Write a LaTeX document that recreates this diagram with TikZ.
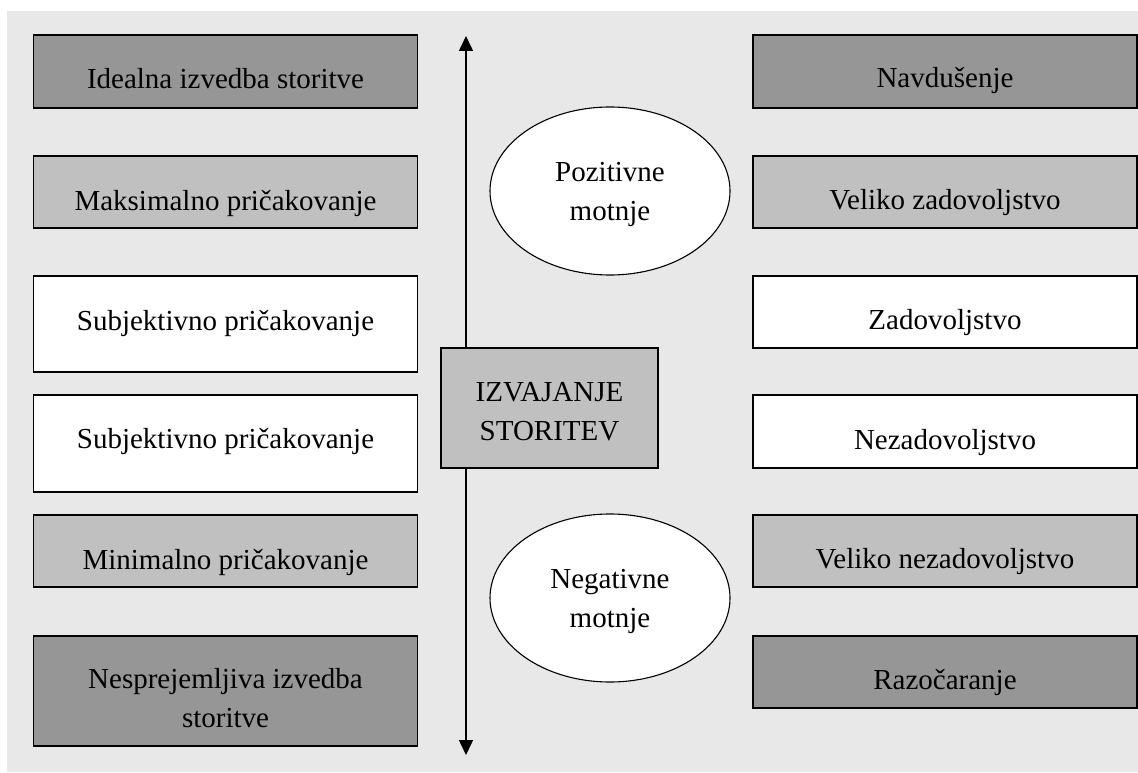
\documentclass[tikz,border=0pt]{standalone}
\usepackage{fontspec}
\setmainfont{Liberation Serif}
\usetikzlibrary{arrows.meta,shapes.geometric}
\definecolor{dk}{RGB}{150,150,150}
\definecolor{lt}{RGB}{192,192,192}
\definecolor{bg}{RGB}{232,232,232}
\tikzset{
  box/.style={draw=black, line width=1.3pt, rectangle, inner sep=0pt, align=center,
    font=\fontsize{29}{38.5}\selectfont, minimum width=384pt},
  oval/.style={draw=black, line width=1.1pt, ellipse, fill=white, inner sep=0pt, align=center,
    font=\fontsize{29}{38.5}\selectfont, minimum width=240pt, minimum height=168pt,
    text height=58pt, text depth=0pt},
  axis/.style={line width=1.5pt, {Triangle[length=15pt,width=14pt]}-{Triangle[length=15pt,width=14pt]}}
}
\begin{document}
\begin{tikzpicture}[x=1pt,y=-1pt]
\useasboundingbox (0,0) rectangle (1138,773);
\fill[white] (0,0) rectangle (1138,773);
\fill[bg] (7,11) rectangle (1138,772);
% axis
\coordinate (atop) at (466,36);
\coordinate (abot) at (466,755);
\draw[axis] (atop) -- (abot);
% left column
\node[box, fill=dk, minimum height=73pt, text height=54pt, text depth=19pt] (l1) at (225.5,71.5) {Idealna izvedba storitve};
\node[box, fill=lt, minimum height=72pt, text height=54pt, text depth=18pt] (l2) at (225.5,192) {Maksimalno pričakovanje};
\node[box, fill=white, minimum height=96pt, text height=54pt, text depth=42pt] (l3) at (225.5,324) {Subjektivno pričakovanje};
\node[box, fill=white, minimum height=97pt, text height=53pt, text depth=44pt] (l4) at (225.5,443.5) {Subjektivno pričakovanje};
\node[box, fill=lt, minimum height=72pt, text height=54pt, text depth=18pt] (l5) at (225.5,551) {Minimalno pričakovanje};
\node[box, fill=dk, minimum height=110pt, text height=91pt, text depth=19pt] (l6) at (225.5,691) {Nesprejemljiva izvedba\\storitve};
% right column
\node[box, fill=dk, minimum height=73pt, text height=53pt, text depth=20pt] (r1) at (945,71.5) {Navdušenje};
\node[box, fill=lt, minimum height=72pt, text height=53pt, text depth=19pt] (r2) at (945,192) {Veliko zadovoljstvo};
\node[box, fill=white, minimum height=72pt, text height=53pt, text depth=19pt] (r3) at (945,312) {Zadovoljstvo};
\node[box, fill=white, minimum height=73pt, text height=54pt, text depth=19pt] (r4) at (945,431.5) {Nezadovoljstvo};
\node[box, fill=lt, minimum height=72pt, text height=53pt, text depth=19pt] (r5) at (945,551) {Veliko nezadovoljstvo};
\node[box, fill=dk, minimum height=72pt, text height=53pt, text depth=19pt] (r6) at (945,672) {Razočaranje};
% centre
\node[box, fill=lt, minimum width=217pt, minimum height=120pt, text height=92pt, text depth=28pt] (c) at (549.5,408) {IZVAJANJE\\STORITEV};
\node[oval] (pos) at (610,191) {Pozitivne\\motnje};
\node[oval] (neg) at (610,598) {Negativne\\motnje};
\end{tikzpicture}
\end{document}
